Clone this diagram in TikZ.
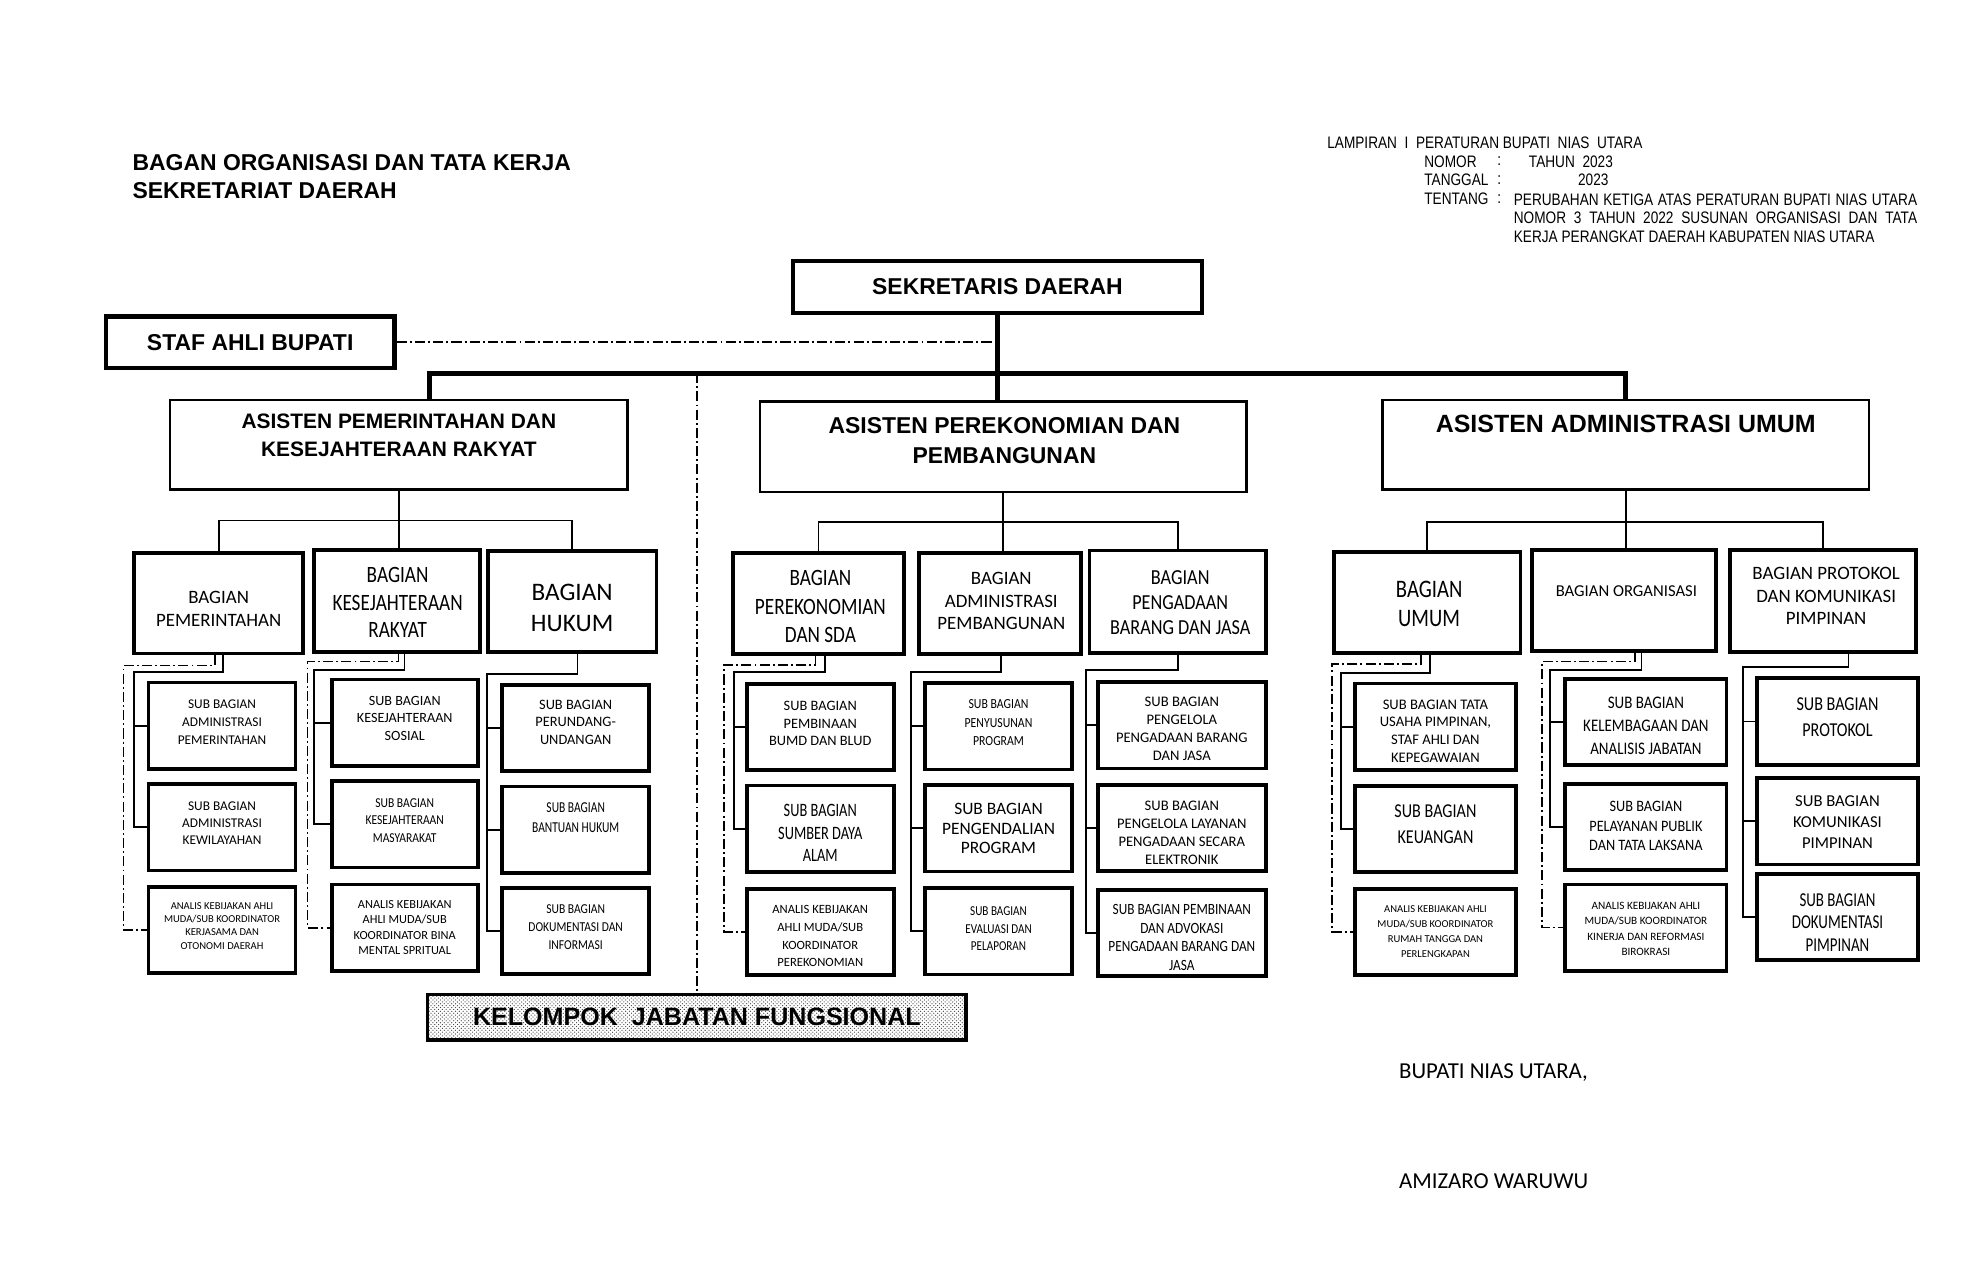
\documentclass[tikz,border=0pt]{standalone}
\usepackage{fontspec}
\setmainfont{Liberation Sans}
\newfontfamily\arialn[FakeStretch=0.82]{Liberation Sans}
\newfontfamily\carA{Carlito}
\newfontfamily\carB[FakeStretch=0.9]{Carlito}
\newfontfamily\carC[FakeStretch=0.85]{Carlito}
\newfontfamily\carD[FakeStretch=0.82]{Carlito}
\newfontfamily\carE[FakeStretch=0.76]{Carlito}
\usepackage{tikz}
\usetikzlibrary{patterns}
\newcommand{\fz}[2]{\fontsize{#1}{#2}\selectfont}

\tikzset{
  topbox/.style={draw, line width=3.5pt, inner sep=0pt},
  asbox/.style={draw, line width=2pt, inner sep=0pt},
  bagbox/.style={draw, line width=3pt, inner sep=0pt, minimum height=80pt},
  subbox/.style={draw, line width=3pt, inner sep=0pt, minimum height=68.5pt},
  txt/.style={inner sep=0pt, align=center},
  link/.style={line width=1.5pt},
  dd/.style={line width=1.3pt, dash pattern=on 8pt off 2.5pt on 1.5pt off 2.5pt},
}

\begin{document}
\begin{tikzpicture}[x=1pt, y=-1pt]
        \useasboundingbox (0,0) rectangle (1560,1008);

        % Header
        \node[txt, align=left, anchor=north west, font=\bfseries\fz{18.2}{22}] (title) at (105,122.5) {BAGAN ORGANISASI DAN TATA KERJA\\SEKRETARIAT DAERAH};
        \node[txt, anchor=west, font=\arialn\fz{13.2}{15}] (lamp) at (1053,113) {LAMPIRAN~ I~ PERATURAN BUPATI~ NIAS~ UTARA};
        \node[txt, anchor=west, font=\arialn\fz{13.2}{15}] (nomor) at (1130,128) {NOMOR};
        \node[txt, anchor=west, font=\arialn\fz{13.2}{15}] (tgl) at (1130,143) {TANGGAL};
        \node[txt, anchor=west, font=\arialn\fz{13.2}{15}] (tent) at (1130,158) {TENTANG};
        \node[txt, anchor=west, font=\arialn\fz{13.2}{15}] (col1) at (1188,128) {:};
        \node[txt, anchor=west, font=\arialn\fz{13.2}{15}] (col2) at (1188,143) {:};
        \node[txt, anchor=west, font=\arialn\fz{13.2}{15}] (col3) at (1188,158) {:};
        \node[txt, anchor=west, font=\arialn\fz{13.2}{15}] (nomor-v) at (1213,128) {TAHUN~ 2023};
        \node[txt, anchor=west, font=\arialn\fz{13.2}{15}] (tgl-v) at (1252,143) {2023};
        \node[txt, align=left, anchor=north west, font=\arialn\fz{13.2}{15}] (tent-v) at (1201,153.3) {\makebox[320pt][s]{PERUBAHAN KETIGA ATAS PERATURAN BUPATI NIAS UTARA}\\\makebox[320pt][s]{NOMOR 3 TAHUN 2022 SUSUNAN ORGANISASI DAN TATA}\\KERJA PERANGKAT DAERAH KABUPATEN NIAS UTARA};

        % Sekda, staf ahli, asisten
        \node[topbox, minimum width=324.5pt, minimum height=41pt, font=\bfseries\fz{18.2}{22}] (sekda) at (791.5,227.8) {SEKRETARIS DAERAH};
        \node[topbox, minimum width=229pt, minimum height=41pt, font=\bfseries\fz{18.2}{22}] (staf) at (198.5,271.5) {STAF AHLI BUPATI};

        \node[asbox, minimum width=363pt, minimum height=71pt] (asis1) at (316.5,353) {};
        \node[txt, font=\bfseries\fz{16.6}{22}] (asis1t) at (316.5,345.5) {ASISTEN PEMERINTAHAN DAN\\KESEJAHTERAAN RAKYAT};
        \node[asbox, minimum width=386pt, minimum height=71.5pt] (asis2) at (796,354.5) {};
        \node[txt, font=\bfseries\fz{18.2}{24}] (asis2t) at (797,349.5) {ASISTEN PEREKONOMIAN DAN\\PEMBANGUNAN};
        \node[asbox, minimum width=386pt, minimum height=71pt] (asis3) at (1290,353) {};
        \node[txt, font=\bfseries\fz{19.8}{24}] (asis3t) at (1290,336.5) {ASISTEN ADMINISTRASI UMUM};

        \coordinate (bar) at (791.5,296);
        \draw[line width=4pt] ([xshift=24pt]asis1.north) |- (bar) -| (asis3.north);
        \draw[line width=3.5pt] (sekda.south) -- (sekda.south |- asis2.north);
        \draw[dd] (staf.east) -- (staf.east -| sekda.south);

        % Bagian
        \node[bagbox, minimum width=134pt] (pem) at (173.5,478.5) {};
        \node[txt, font=\carA\fz{15}{18}] (pemt) at (173.5,483) {BAGIAN\\PEMERINTAHAN};
        \node[bagbox, minimum width=132pt, minimum height=81pt] (kes) at (315,477) {};
        \node[txt, font=\carD\fz{18.6}{22}] (kest) at (315.5,478) {BAGIAN\\KESEJAHTERAAN\\RAKYAT};
        \node[bagbox, minimum width=134pt] (huk) at (454,477.5) {};
        \node[txt, font=\carA\fz{20}{25}] (hukt) at (454,482.5) {BAGIAN\\HUKUM};

        \node[bagbox, minimum width=136pt] (perek) at (649.5,479) {};
        \node[txt, font=\carD\fz{18.6}{22.5}] (perekt) at (651,481.5) {BAGIAN\\PEREKONOMIAN\\DAN SDA};
        \node[bagbox, minimum width=129pt] (admp) at (793.5,479) {};
        \node[txt, font=\carA\fz{15}{18}] (admpt) at (794.5,477) {BAGIAN\\ADMINISTRASI\\PEMBANGUNAN};
        \node[bagbox, minimum width=140pt, minimum height=81.5pt] (peng) at (934.5,477.5) {};
        \node[txt, font=\carC\fz{17}{20}] (pengt) at (936.5,478) {BAGIAN\\PENGADAAN\\BARANG DAN JASA};

        \node[bagbox, minimum width=148pt] (umum) at (1132.5,478) {};
        \node[txt, font=\carD\fz{20}{23}] (umumt) at (1134,479.5) {BAGIAN\\UMUM};
        \node[bagbox, minimum width=146pt] (org) at (1288.5,476.5) {};
        \node[txt, font=\carA\fz{13.2}{16}] (orgt) at (1290.5,469) {BAGIAN ORGANISASI};
        \node[bagbox, minimum width=147.5pt, minimum height=81pt] (prot) at (1446.75,477) {};
        \node[txt, font=\carA\fz{15}{18}] (prott) at (1449,473) {BAGIAN PROTOKOL\\DAN KOMUNIKASI\\PIMPINAN};

        \coordinate (a1) at (316.5,413);
        \coordinate (a2) at (796,414);
        \coordinate (a3) at (1290,414);
        \draw[link] (asis1.south) -- (asis1.south |- kes.north);
        \draw[link] (pem.north) |- (a1) -| (huk.north);
        \draw[link] (asis2.south) -- (asis2.south |- admp.north);
        \draw[link] (perek.north) |- (a2) -| (peng.north);
        \draw[link] (asis3.south) -- (asis3.south |- org.north);
        \draw[link] (umum.north) |- (a3) -| (prot.north);

        % Sub bagian, pemerintahan dan kesra
        \node[subbox, minimum width=116.6pt] (pem1) at (176.2,575.75) {};
        \node[txt, font=\carA\fz{10.6}{14}] (pem1t) at (176.2,573) {SUB BAGIAN\\ADMINISTRASI\\PEMERINTAHAN};
        \node[subbox, minimum width=116.6pt] (pem2) at (176.2,656.45) {};
        \node[txt, font=\carA\fz{10.6}{13.5}] (pem2t) at (176.2,653.5) {SUB BAGIAN\\ADMINISTRASI\\KEWILAYAHAN};
        \node[subbox, minimum width=116.6pt] (pem3) at (176.2,737.8) {};
        \node[txt, font=\carA\fz{8.4}{10.5}] (pem3t) at (176.2,734.75) {ANALIS KEBIJAKAN AHLI\\MUDA/SUB KOORDINATOR\\KERJASAMA DAN\\OTONOMI DAERAH};

        \node[subbox, minimum width=116pt] (kes1) at (321.15,573.35) {};
        \node[txt, font=\carA\fz{11.2}{14}] (kes1t) at (321.15,570) {SUB BAGIAN\\KESEJAHTERAAN\\SOSIAL};
        \node[subbox, minimum width=116pt] (kes2) at (321.15,654.1) {};
        \node[txt, font=\carC\fz{10.8}{14}] (kes2t) at (321.15,651) {SUB BAGIAN\\KESEJAHTERAAN\\MASYARAKAT};
        \node[subbox, minimum width=116pt] (kes3) at (321.15,736.1) {};
        \node[txt, font=\carA\fz{9.8}{12}] (kes3t) at (321.15,736) {ANALIS KEBIJAKAN\\AHLI MUDA/SUB\\KOORDINATOR BINA\\MENTAL SPRITUAL};

        \node[subbox, minimum width=116.6pt] (huk1) at (456.8,577.5) {};
        \node[txt, font=\carA\fz{11.4}{14}] (huk1t) at (456.8,573) {SUB BAGIAN\\PERUNDANG-\\UNDANGAN};
        \node[subbox, minimum width=116.6pt] (huk2) at (456.8,658.25) {};
        \node[txt, font=\carE\fz{12}{16}] (huk2t) at (456.8,649) {SUB BAGIAN\\BANTUAN HUKUM};
        \node[subbox, minimum width=116.6pt] (huk3) at (456.8,738.6) {};
        \node[txt, font=\carC\fz{10.8}{14.5}] (huk3t) at (456.8,735.5) {SUB BAGIAN\\DOKUMENTASI DAN\\INFORMASI};

        % Sub bagian, perekonomian dan pembangunan
        \node[subbox, minimum width=116.7pt] (perek1) at (650.85,577) {};
        \node[txt, font=\carA\fz{11.4}{14}] (perek1t) at (650.85,574) {SUB BAGIAN\\PEMBINAAN\\BUMD DAN BLUD};
        \node[subbox, minimum width=116.7pt] (perek2) at (650.85,657.5) {};
        \node[txt, font=\carE\fz{15}{18}] (perek2t) at (650.85,661) {SUB BAGIAN\\SUMBER DAYA\\ALAM};
        \node[subbox, minimum width=116.7pt] (perek3) at (650.85,739.5) {};
        \node[txt, font=\carA\fz{10}{14}] (perek3t) at (650.85,743) {ANALIS KEBIJAKAN\\AHLI MUDA/SUB\\KOORDINATOR\\PEREKONOMIAN};

        \node[subbox, minimum width=116.4pt] (admp1) at (792.3,576.25) {};
        \node[txt, font=\carC\fz{11}{14.5}] (admp1t) at (792.3,573.5) {SUB BAGIAN\\PENYUSUNAN\\PROGRAM};
        \node[subbox, minimum width=116.4pt] (admp2) at (792.3,657.25) {};
        \node[txt, font=\carA\fz{13.8}{15.5}] (admp2t) at (792.3,657.5) {SUB BAGIAN\\PENGENDALIAN\\PROGRAM};
        \node[subbox, minimum width=116.4pt] (admp3) at (792.3,739) {};
        \node[txt, font=\carD\fz{10.8}{14}] (admp3t) at (792.3,737) {SUB BAGIAN\\EVALUASI DAN\\PELAPORAN};

        \node[subbox, minimum width=133pt] (peng1) at (937.75,575.55) {};
        \node[txt, font=\carA\fz{11.6}{14.3}] (peng1t) at (937.75,578.5) {SUB BAGIAN\\PENGELOLA\\PENGADAAN BARANG\\DAN JASA};
        \node[subbox, minimum width=133pt] (peng2) at (937.75,656.9) {};
        \node[txt, font=\carA\fz{11.6}{14.3}] (peng2t) at (937.75,660.75) {SUB BAGIAN\\PENGELOLA LAYANAN\\PENGADAAN SECARA\\ELEKTRONIK};
        \node[subbox, minimum width=133pt] (peng3) at (937.75,740.35) {};
        \node[txt, font=\carC\fz{12.4}{14.7}] (peng3t) at (937.75,743.75) {SUB BAGIAN PEMBINAAN\\DAN ADVOKASI\\PENGADAAN BARANG DAN\\JASA};

        % Sub bagian, administrasi umum
        \node[subbox, minimum width=128.2pt] (umum1) at (1139,576.6) {};
        \node[txt, font=\carA\fz{11.6}{14}] (umum1t) at (1139,580) {SUB BAGIAN TATA\\USAHA PIMPINAN,\\STAF AHLI DAN\\KEPEGAWAIAN};
        \node[subbox, minimum width=128.2pt] (umum2) at (1139,657.65) {};
        \node[txt, font=\carD\fz{15.6}{20}] (umum2t) at (1139,654) {SUB BAGIAN\\KEUANGAN};
        \node[subbox, minimum width=128.2pt] (umum3) at (1139,739.5) {};
        \node[txt, font=\carA\fz{8.4}{12}] (umum3t) at (1139,739) {ANALIS KEBIJAKAN AHLI\\MUDA/SUB KOORDINATOR\\RUMAH TANGGA DAN\\PERLENGKAPAN};

        \node[subbox, minimum width=127.8pt] (org1) at (1306,572.75) {};
        \node[txt, font=\carC\fz{14}{18}] (org1t) at (1306,576) {SUB BAGIAN\\KELEMBAGAAN DAN\\ANALISIS JABATAN};
        \node[subbox, minimum width=127.8pt] (org2) at (1306,656.2) {};
        \node[txt, font=\carB\fz{12.6}{15.5}] (org2t) at (1306,655.5) {SUB BAGIAN\\PELAYANAN PUBLIK\\DAN TATA LAKSANA};
        \node[subbox, minimum width=127.8pt] (org3) at (1306,736) {};
        \node[txt, font=\carA\fz{8.9}{12.3}] (org3t) at (1306,737.25) {ANALIS KEBIJAKAN AHLI\\MUDA/SUB KOORDINATOR\\KINERJA DAN REFORMASI\\BIROKRASI};

        \node[subbox, minimum width=128.3pt] (prot1) at (1458,572.5) {};
        \node[txt, font=\carD\fz{15.6}{20}] (prot1t) at (1458,569) {SUB BAGIAN\\PROTOKOL};
        \node[subbox, minimum width=128.3pt] (prot2) at (1458,651.7) {};
        \node[txt, font=\carA\fz{13.2}{16.5}] (prot2t) at (1458,652.3) {SUB BAGIAN\\KOMUNIKASI\\PIMPINAN};
        \node[subbox, minimum width=128.3pt] (prot3) at (1458,727.7) {};
        \node[txt, font=\carE\fz{15.6}{18}] (prot3t) at (1458,732) {SUB BAGIAN\\DOKUMENTASI\\PIMPINAN};

        % Rails from bagian to sub bagian
        \coordinate (pem-r) at (106,533);
        \coordinate (pem-d) at (98,528);
        \draw[link] ([xshift=3.5pt]pem.south) |- (pem-r) |- (pem2.west);
        \draw[link] (pem-r |- pem1.west) -- (pem1.west);
        \draw[dd] ([xshift=-3pt]pem.south) |- (pem-d) |- (pem3.west);

        \coordinate (kes-r) at (249.4,531.7);
        \coordinate (kes-d) at (244,525);
        \draw[link] ([xshift=6pt]kes.south) |- (kes-r) |- (kes2.west);
        \draw[link] (kes-r |- kes1.west) -- (kes1.west);
        \draw[dd] ([xshift=1.3pt]kes.south) |- (kes-d) |- (kes3.west);

        \coordinate (huk-r) at (386.5,534.9);
        \draw[link] ([xshift=4.2pt]huk.south) |- (huk-r) |- (huk3.west);
        \draw[link] (huk-r |- huk1.west) -- (huk1.west);
        \draw[link] (huk-r |- huk2.west) -- (huk2.west);

        \coordinate (perek-r) at (582.4,533);
        \coordinate (perek-d) at (574.7,527.7);
        \draw[link] ([xshift=5pt]perek.south) |- (perek-r) |- (perek2.west);
        \draw[link] (perek-r |- perek1.west) -- (perek1.west);
        \draw[dd] ([xshift=-2.5pt]perek.south) |- (perek-d) |- (perek3.west);

        \coordinate (admp-r) at (723,533);
        \draw[link] ([xshift=1pt]admp.south) |- (admp-r) |- (admp3.west);
        \draw[link] (admp-r |- admp1.west) -- (admp1.west);
        \draw[link] (admp-r |- admp2.west) -- (admp2.west);

        \coordinate (peng-r) at (861.6,531.6);
        \draw[link] (peng.south) |- (peng-r) |- (peng3.west);
        \draw[link] (peng-r |- peng1.west) -- (peng1.west);
        \draw[link] (peng-r |- peng2.west) -- (peng2.west);

        \coordinate (umum-r) at (1064,534.3);
        \coordinate (umum-d) at (1057,527);
        \draw[link] ([xshift=2.5pt]umum.south) |- (umum-r) |- (umum2.west);
        \draw[link] (umum-r |- umum1.west) -- (umum1.west);
        \draw[dd] ([xshift=-5pt]umum.south) |- (umum-d) |- (umum3.west);

        \coordinate (org-r) at (1230,531.6);
        \coordinate (org-d) at (1223.6,525);
        \draw[link] ([xshift=14pt]org.south) |- (org-r) |- (org2.west);
        \draw[link] (org-r |- org1.west) -- (org1.west);
        \draw[dd] ([xshift=9pt]org.south) |- (org-d) |- (org3.west);

        \coordinate (prot-r) at (1383,529.5);
        \draw[link] ([xshift=20pt]prot.south) |- (prot-r) |- (prot3.west);
        \draw[link] (prot-r |- prot1.west) -- (prot1.west);
        \draw[link] (prot-r |- prot2.west) -- (prot2.west);

        % Kelompok jabatan fungsional
        \node[draw, line width=2.5pt, inner sep=0pt, pattern=crosshatch dots, pattern color=black!75, minimum width=427pt, minimum height=36pt, font=\bfseries\fz{19.9}{22}] (kjf) at (553,807.25) {KELOMPOK~ JABATAN FUNGSIONAL};
        \draw[dd] (kjf.north |- bar) -- (kjf.north);

        % Tanda tangan
        \node[txt, anchor=west, font=\carA\fz{18.1}{22}] (bupati) at (1110,851) {BUPATI NIAS UTARA,};
        \node[txt, anchor=west, font=\carA\fz{18.1}{22}] (nama) at (1110,937) {AMIZARO WARUWU};
    \end{tikzpicture}
\end{document}
